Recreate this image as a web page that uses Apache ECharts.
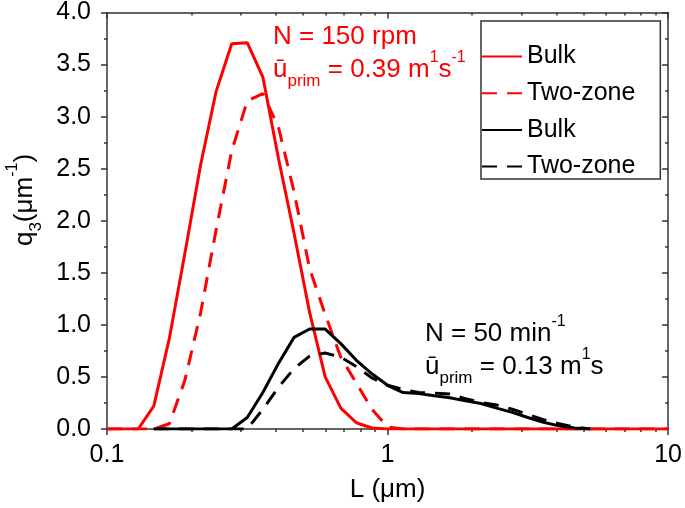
<!DOCTYPE html>
<html><head><meta charset="utf-8">
<script src="https://cdn.jsdelivr.net/npm/echarts@6/dist/echarts.min.js"></script>
<style>html,body{margin:0;padding:0;background:#fff}#c{width:685px;height:508px}</style>
</head><body><div id="c"></div>
<script>
// particle size grid L (µm)
const sizes = [0.1, 0.1136, 0.1292, 0.1468, 0.1668, 0.1896, 0.2154, 0.2448, 0.2783, 0.3162,
  0.3594, 0.4084, 0.4642, 0.5275, 0.5995, 0.6813, 0.7743, 0.8799, 1.0, 1.136,
  1.292, 1.468, 1.668, 1.896, 2.154, 2.448, 2.783, 3.162, 3.594, 4.084,
  4.642, 5.275, 5.995, 6.813, 7.743, 8.799, 10];
// q3 values (µm^-1)
const redBulk = [0, 0, 0, 0.22, 0.87, 1.69, 2.53, 3.24, 3.70, 3.71,
  3.38, 2.60, 1.88, 1.12, 0.50, 0.20, 0.06, 0.01, 0, 0,
  0, 0, 0, 0, 0, 0, 0, 0, 0, 0,
  0, 0, 0, 0, 0, 0, 0];
const redTwoZone = [0, 0, 0, 0, 0.05, 0.47, 1.11, 1.91, 2.67, 3.15,
  3.22, 2.90, 2.28, 1.54, 1.10, 0.69, 0.44, 0.19, 0.02, 0,
  0, 0, 0, 0, 0, 0, 0, 0, 0, 0,
  0, 0, 0, 0, 0, 0, 0];
const blackBulk = [null, null, null, 0, 0, 0, 0, 0, 0, 0.11,
  0.35, 0.63, 0.88, 0.96, 0.96, 0.82, 0.66, 0.53, 0.42, 0.35,
  0.34, 0.32, 0.30, 0.27, 0.245, 0.20, 0.16, 0.11, 0.065, 0.03,
  0.01, 0, null, null, null, null, null];
const blackTwoZone = [null, null, null, 0, 0, 0, 0, 0, 0, 0,
  0.19, 0.40, 0.58, 0.70, 0.73, 0.69, 0.60, 0.49, 0.42, 0.38,
  0.35, 0.345, 0.335, 0.29, 0.255, 0.23, 0.19, 0.14, 0.09, 0.05,
  0.02, 0, null, null, null, null, null];
const seriesNames = ['Bulk', 'Two-zone', 'Bulk ', 'Two-zone '];
const xMinorTicks = [0.2, 0.3, 0.4, 0.5, 0.6, 0.7, 0.8, 0.9, 2, 3, 4, 5, 6, 7, 8, 9];
const xMajorTicks = [0.1, 1, 10];

const FONT = 'Liberation Sans, Arial, sans-serif';
const RED = '#ff0000';
const AX = '#333333';

function pairs(vals) {
  const out = [];
  vals.forEach((v, i) => { if (v !== null) out.push([sizes[i], v]); });
  return out;
}

// helper axes in log10 space carry the tick marks of the log scale
const logSpace = (arr) => arr.map(v => Math.log10(v));
const tickAxis = (pos, inside, len, vals) => ({
  type: 'value', min: -1, max: 1, position: pos,
  axisLine: { show: false, onZero: false },
  axisTick: { show: true, inside: inside, length: len, customValues: logSpace(vals), lineStyle: { color: AX, width: 1.5 } },
  axisLabel: { show: false },
  splitLine: { show: false }
});

const xAxes = [
  {
    type: 'log', logBase: 10, min: 0.1, max: 10, position: 'bottom',
    axisLine: { show: true, onZero: false, lineStyle: { color: AX, width: 1.5 } },
    axisTick: { show: false },
    axisLabel: { fontSize: 25, color: '#000', fontFamily: FONT, margin: 14 },
    splitLine: { show: false },
    name: 'L (μm)', nameLocation: 'middle', nameGap: 48,
    nameTextStyle: { fontSize: 26, color: '#000', fontFamily: FONT }
  },
  tickAxis('bottom', false, 6, xMajorTicks),
  tickAxis('bottom', false, 3, xMinorTicks),
  {
    type: 'log', logBase: 10, min: 0.1, max: 10, position: 'top',
    axisLine: { show: true, onZero: false, lineStyle: { color: AX, width: 1.5 } },
    axisTick: { show: false }, axisLabel: { show: false }, splitLine: { show: false }
  },
  tickAxis('top', true, 6, xMajorTicks),
  tickAxis('top', true, 3, xMinorTicks)
];
const yAxes = [
  {
    type: 'value', min: 0, max: 4, interval: 0.5, position: 'left',
    axisLine: { show: true, onZero: false, lineStyle: { color: AX, width: 1.5 } },
    axisTick: { show: true, inside: false, length: 6, lineStyle: { color: AX, width: 1.5 } },
    minorTick: { show: true, splitNumber: 2, length: 3, lineStyle: { color: AX, width: 1.5 } },
    axisLabel: { fontSize: 25, color: '#000', fontFamily: FONT, margin: 16, formatter: v => v.toFixed(1) },
    splitLine: { show: false }, minorSplitLine: { show: false }
  },
  {
    type: 'value', min: 0, max: 4, interval: 0.5, position: 'right',
    axisLine: { show: true, onZero: false, lineStyle: { color: AX, width: 1.5 } },
    axisTick: { show: true, inside: true, length: 6, lineStyle: { color: AX, width: 1.5 } },
    minorTick: { show: true, splitNumber: 2, length: 3, lineStyle: { color: AX, width: 1.5 } },
    axisLabel: { show: false },
    splitLine: { show: false }, minorSplitLine: { show: false }
  }
];

function lineSeries(name, vals, color, dashed) {
  return {
    name: name, type: 'line', xAxisIndex: 0, yAxisIndex: 0,
    data: pairs(vals), symbol: 'none', showSymbol: false,
    lineStyle: { color: color, width: 3, type: dashed ? [15, 10] : 'solid' },
    itemStyle: { color: color }
  };
}

const richMain = (fill) => ({
  a: { fill: fill, fontSize: 26, fontFamily: FONT, lineHeight: 40 },
  sub: { fill: fill, fontSize: 17, fontFamily: FONT, lineHeight: 28, verticalAlign: 'bottom' },
  sup: { fill: fill, fontSize: 16, fontFamily: FONT, lineHeight: 16, verticalAlign: 'top' }
});

const option = {
  animation: false,
  backgroundColor: '#fff',
  grid: { left: 107, right: 12, top: 11, bottom: 79, containLabel: false },
  xAxis: xAxes,
  yAxis: yAxes,
  legend: {
    orient: 'vertical', left: 481, top: 21,
    itemWidth: 40, itemHeight: 14, itemGap: 11.7,
    padding: [23, 18, 0, 0],
    borderColor: AX, borderWidth: 1.5,
    itemStyle: { opacity: 0 },
    textStyle: { fontSize: 25, color: '#000', fontFamily: FONT, lineHeight: 25 },
    data: seriesNames
  },
  series: [
    lineSeries(seriesNames[0], redBulk, RED, false),
    lineSeries(seriesNames[1], redTwoZone, RED, true),
    lineSeries(seriesNames[2], blackBulk, '#000', false),
    lineSeries(seriesNames[3], blackTwoZone, '#000', true)
  ],
  graphic: [
    { type: 'text', x: 273, y: 17, silent: true,
      style: { text: '{a|N = 150 rpm}', rich: richMain(RED), verticalAlign: 'top', align: 'left' } },
    { type: 'text', x: 273, y: 50, silent: true,
      style: { text: '{a|ū}{sub|prim}{a| = 0.39 m}{sup|1}{a|s}{sup|-1}', rich: richMain(RED), verticalAlign: 'top', align: 'left' } },
    { type: 'text', x: 425, y: 314, silent: true,
      style: { text: '{a|N = 50 min}{sup|-1}', rich: richMain('#000'), verticalAlign: 'top', align: 'left' } },
    { type: 'text', x: 425, y: 347, silent: true,
      style: { text: '{a|ū}{sub|prim}{a| = 0.13 m}{sup|1}{a|s}', rich: richMain('#000'), verticalAlign: 'top', align: 'left' } },
    { type: 'text', x: 25, y: 200, rotation: Math.PI / 2, silent: true,
      style: { text: '{a|q}{sub|3}{a|(μm}{sup|-1}{a|)}', rich: richMain('#000'), verticalAlign: 'middle', align: 'center' } }
  ]
};

const chart = echarts.init(document.getElementById('c'), null, { renderer: 'canvas' });
chart.setOption(option);
</script>
</body></html>
